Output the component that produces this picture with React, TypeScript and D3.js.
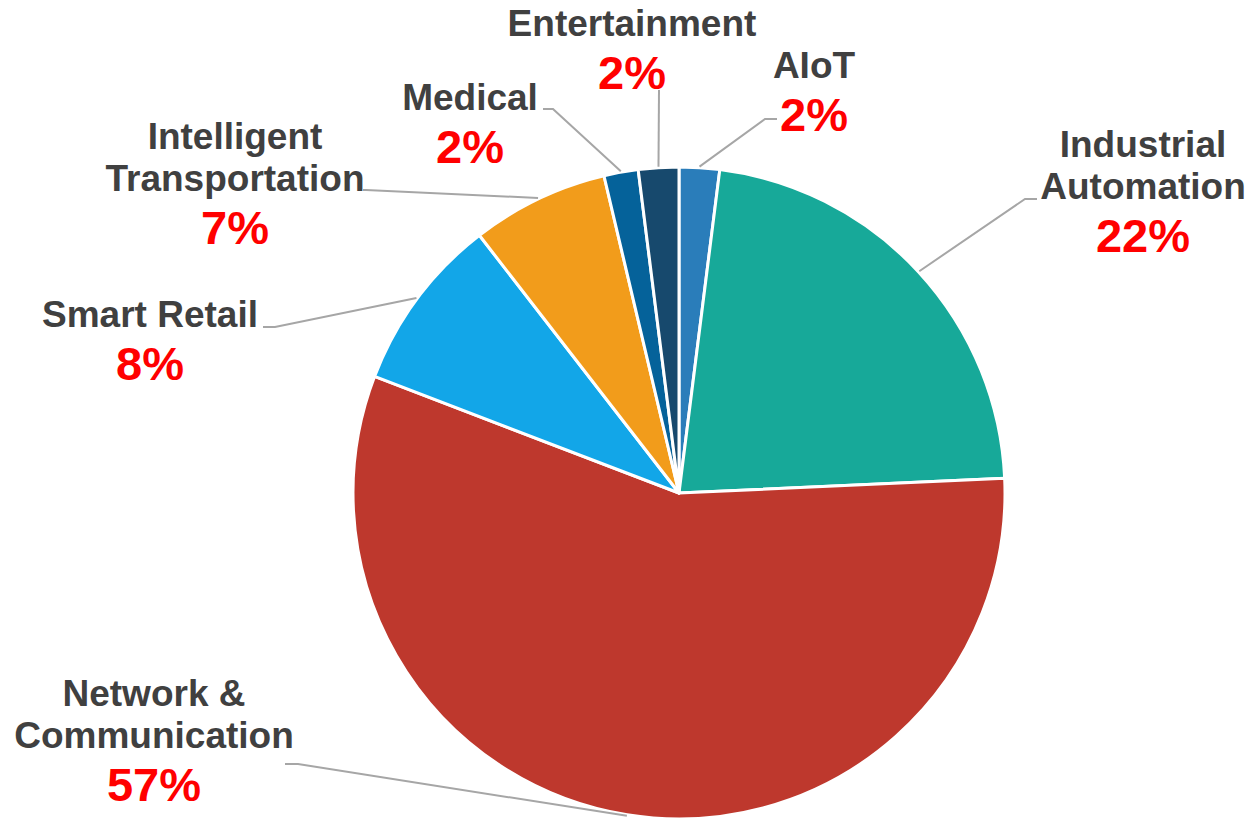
import React from "react";
import * as d3 from "d3";

const categories = [
  "AIoT",
  "Industrial Automation",
  "Network & Communication",
  "Smart Retail",
  "Intelligent Transportation",
  "Medical",
  "Entertainment",
];
const values = [2.0, 22.3, 56.6, 8.7, 6.8, 1.7, 2.0];
const pctLabels = ["2%", "22%", "57%", "8%", "7%", "2%", "2%"];
const labelLines = [
  ["AIoT"],
  ["Industrial", "Automation"],
  ["Network &", "Communication"],
  ["Smart Retail"],
  ["Intelligent", "Transportation"],
  ["Medical"],
  ["Entertainment"],
];
const colors = ["#2a7dba", "#17a999", "#be382d", "#12a6e8", "#f29c1b", "#05629a", "#17496d"];

// layout (label centre x, first line baseline y, leader elbow & end)
const layout = [
  { x: 814, y: 78, elbow: [765, 119], end: [777, 119] },
  { x: 1143, y: 157, elbow: [1025, 199], end: [1037, 199] },
  { x: 154, y: 706, elbow: [298, 764], end: [285, 764] },
  { x: 150, y: 327, elbow: [275, 327], end: [263, 327] },
  { x: 235, y: 149, elbow: [366, 190], end: [363, 190] },
  { x: 470, y: 110, elbow: [553, 109], end: [543, 109] },
  { x: 632, y: 36, elbow: [659, 90], end: [659, 90] },
];

const W = 1253;
const H = 820;
const cx = 679;
const cy = 493;
const R = 326;

export default function App() {
  const pie = d3
    .pie<number>()
    .sort(null)
    .value((d) => d)
    .startAngle(0)
    .endAngle(2 * Math.PI);
  const arcs = pie(values);
  const arc = d3.arc<d3.PieArcDatum<number>>().innerRadius(0).outerRadius(R);
  const font = "'Liberation Sans', Arial, Helvetica, sans-serif";

  return (
    <svg
      width={W}
      height={H}
      style={{ position: "absolute", left: 0, top: 0, background: "#fff" }}
    >
      <g transform={`translate(${cx},${cy})`}>
        {arcs.map((a, i) => (
          <path
            key={categories[i]}
            d={arc(a) || ""}
            fill={colors[i]}
            stroke="#ffffff"
            strokeWidth={3}
            strokeLinejoin="round"
          />
        ))}
      </g>
      {arcs.map((a, i) => {
        const mid = (a.startAngle + a.endAngle) / 2;
        const sx = cx + Math.sin(mid) * (R + 1);
        const sy = cy - Math.cos(mid) * (R + 1);
        const L = layout[i];
        const line = d3.line()([
          [sx, sy],
          [L.elbow[0], L.elbow[1]],
          [L.end[0], L.end[1]],
        ]);
        return (
          <path
            key={"l" + i}
            d={line || ""}
            fill="none"
            stroke="#a6a6a6"
            strokeWidth={2}
          />
        );
      })}
      {labelLines.map((lines, i) => {
        const L = layout[i];
        return (
          <g key={"t" + i} fontFamily={font} fontWeight="bold" textAnchor="middle">
            {lines.map((ln, j) => (
              <text key={j} x={L.x} y={L.y + j * 42} fontSize={37} fill="#404040">
                {ln}
              </text>
            ))}
            <text
              x={L.x}
              y={L.y + (lines.length - 1) * 42 + 53}
              fontSize={47}
              fill="#ff0000"
            >
              {pctLabels[i]}
            </text>
          </g>
        );
      })}
    </svg>
  );
}
